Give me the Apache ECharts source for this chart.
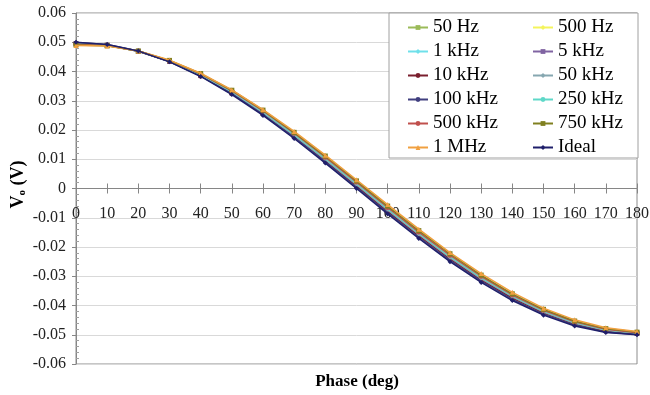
<!DOCTYPE html>
<html>
<head>
<meta charset="utf-8">
<script src="https://cdn.jsdelivr.net/npm/echarts@6/dist/echarts.min.js"></script>
<style>html,body{margin:0;padding:0;background:#fff}#c{width:650px;height:395px}</style>
</head>
<body>
<div id="c"></div>
<script>
var phases = ['0','10','20','30','40','50','60','70','80','90','100','110','120','130','140','150','160','170','180'];
var yTicks = [-0.06,-0.05,-0.04,-0.03,-0.02,-0.01,0,0.01,0.02,0.03,0.04,0.05,0.06];

var seriesNames = ['50 Hz','500 Hz','1 kHz','5 kHz','10 kHz','50 kHz','100 kHz','250 kHz','500 kHz','750 kHz','1 MHz','Ideal'];

var v50Hz   = [0.0495,0.0490,0.0469,0.0435,0.0387,0.0328,0.0258,0.0181,0.0099,0.0013,-0.0073,-0.0157,-0.0236,-0.0308,-0.0370,-0.0422,-0.0461,-0.0485,-0.0495];
var v500Hz  = [0.0494,0.0489,0.0470,0.0436,0.0389,0.0331,0.0262,0.0185,0.0103,0.0017,-0.0069,-0.0153,-0.0232,-0.0304,-0.0367,-0.0419,-0.0458,-0.0483,-0.0494];
var v1kHz   = [0.0496,0.0490,0.0469,0.0434,0.0385,0.0325,0.0255,0.0178,0.0095,0.0009,-0.0078,-0.0161,-0.0240,-0.0312,-0.0374,-0.0425,-0.0463,-0.0487,-0.0496];
var v5kHz   = [0.0495,0.0490,0.0469,0.0435,0.0386,0.0327,0.0257,0.0180,0.0098,0.0012,-0.0074,-0.0158,-0.0237,-0.0309,-0.0371,-0.0423,-0.0461,-0.0485,-0.0495];
var v10kHz  = [0.0497,0.0491,0.0469,0.0434,0.0385,0.0325,0.0254,0.0177,0.0094,0.0008,-0.0079,-0.0162,-0.0241,-0.0313,-0.0375,-0.0426,-0.0464,-0.0488,-0.0497];
var v50kHz  = [0.0495,0.0490,0.0469,0.0435,0.0387,0.0328,0.0258,0.0181,0.0099,0.0013,-0.0073,-0.0157,-0.0236,-0.0308,-0.0370,-0.0422,-0.0461,-0.0485,-0.0495];
var v100kHz = [0.0499,0.0492,0.0470,0.0434,0.0385,0.0324,0.0253,0.0175,0.0091,0.0004,-0.0082,-0.0167,-0.0246,-0.0317,-0.0379,-0.0430,-0.0467,-0.0491,-0.0499];
var v250kHz = [0.0494,0.0489,0.0470,0.0436,0.0389,0.0331,0.0262,0.0185,0.0103,0.0017,-0.0069,-0.0153,-0.0232,-0.0304,-0.0367,-0.0419,-0.0458,-0.0483,-0.0494];
var v500kHz = [0.0493,0.0489,0.0470,0.0437,0.0391,0.0334,0.0265,0.0189,0.0107,0.0022,-0.0065,-0.0149,-0.0228,-0.0300,-0.0364,-0.0416,-0.0456,-0.0481,-0.0493];
var v750kHz = [0.0491,0.0488,0.0470,0.0438,0.0393,0.0336,0.0268,0.0192,0.0111,0.0026,-0.0060,-0.0144,-0.0223,-0.0296,-0.0360,-0.0413,-0.0453,-0.0479,-0.0491];
var v1MHz   = [0.0489,0.0487,0.0470,0.0439,0.0394,0.0337,0.0270,0.0195,0.0114,0.0030,-0.0055,-0.0139,-0.0219,-0.0291,-0.0355,-0.0409,-0.0449,-0.0476,-0.0489];
var vIdeal  = [0.0500,0.0492,0.0470,0.0433,0.0383,0.0321,0.0250,0.0171,0.0087,0.0000,-0.0087,-0.0171,-0.0250,-0.0321,-0.0383,-0.0433,-0.0470,-0.0492,-0.0500];

var seriesValues = [v50Hz,v500Hz,v1kHz,v5kHz,v10kHz,v50kHz,v100kHz,v250kHz,v500kHz,v750kHz,v1MHz,vIdeal];
var seriesColors = ['#9BBB59','#F4F45C','#6FE0EA','#8064A2','#7A1F2E','#86A7B0','#403F7F','#5FD8C8','#C0504D','#808020','#F0A040','#1F1F6A'];
var seriesSymbols = ['rect','diamond','diamond','rect','circle','diamond','none','none','circle','rect','triangle','diamond'];

var FONT = 'Liberation Serif';
var GRID_TOP = 13, GRID_BOTTOM = 31, H = 395;
var zeroOffset = -((H - GRID_TOP - GRID_BOTTOM) / 2);

var series = seriesNames.map(function (n, i) {
  return {
    name: n,
    type: 'line',
    data: seriesValues[i],
    symbol: seriesSymbols[i],
    symbolSize: 5,
    showSymbol: seriesSymbols[i] !== 'none',
    lineStyle: { width: 1.5, color: seriesColors[i] },
    itemStyle: { color: seriesColors[i] },
    color: seriesColors[i],
    animation: false,
    z: 2 + i
  };
});

var leftCol = ['50 Hz','1 kHz','10 kHz','100 kHz','500 kHz','1 MHz'];
var rightCol = ['500 Hz','5 kHz','50 kHz','250 kHz','750 kHz','Ideal'];

function legendAt(left, data) {
  return {
    orient: 'vertical', left: left, top: 18, padding: 0,
    data: data, itemWidth: 20, itemHeight: 6, itemGap: 5,
    textStyle: { fontFamily: FONT, fontSize: 19, lineHeight: 19, color: '#000' },
    z: 10, selectedMode: false
  };
}

var chart = echarts.init(document.getElementById('c'), null, { renderer: 'canvas' });
chart.setOption({
  animation: false,
  backgroundColor: '#fff',
  grid: { left: 76, right: 13, top: GRID_TOP, bottom: GRID_BOTTOM, containLabel: false, outerBoundsMode: 'none', show: true, borderColor: '#8C8C8C', borderWidth: 1, backgroundColor: 'transparent' },
  legend: [legendAt(407, leftCol), legendAt(532, rightCol)],
  graphic: [
    { type: 'rect', shape: { x: 389, y: 13, width: 249, height: 145 }, style: { fill: '#fff', stroke: '#A0A0A0', lineWidth: 1 }, z: 5 },
    { type: 'text', x: 357, y: 382, style: { text: 'Phase (deg)', fontFamily: FONT, fontSize: 17, fontWeight: 'bold', fill: '#000', align: 'center', verticalAlign: 'middle' }, z: 5 }
  ],
  xAxis: [
    {
      type: 'category', data: phases, boundaryGap: false, position: 'bottom', offset: zeroOffset,
      axisLine: { onZero: false, lineStyle: { color: '#868686' } },
      axisTick: { show: true, length: 5, interval: 0, lineStyle: { color: '#868686' } },
      axisLabel: { interval: 0, margin: 17, fontFamily: FONT, fontSize: 16, color: '#222' },
      splitLine: { show: false }
    },
    {
      type: 'category', data: phases, boundaryGap: false, position: 'top', offset: zeroOffset,
      axisLine: { onZero: false, show: false },
      axisTick: { show: true, length: 5, interval: 0, lineStyle: { color: '#868686' } },
      axisLabel: { show: false },
      splitLine: { show: false }
    }
  ],
  yAxis: [
    {
      type: 'value', min: yTicks[0], max: yTicks[yTicks.length - 1], interval: 0.01,
      axisLine: { show: true, onZero: false, lineStyle: { color: '#868686' } },
      axisTick: { show: true, length: 4, lineStyle: { color: '#868686' } },
      axisLabel: { margin: 10, fontFamily: FONT, fontSize: 16, color: '#222',
        formatter: function (v) { return String(Number(v.toFixed(2))); } },
      splitLine: { show: true, lineStyle: { color: '#D9D9D9', width: 1 } },
      name: '{v|V}{s|o}{v| (V)}',
      nameLocation: 'middle', nameRotate: 90, nameGap: 48, nameMoveOverlap: false,
      nameTextStyle: {
        padding: [0, 0, 0, 8],
        rich: {
          v: { fontFamily: FONT, fontSize: 18, fontWeight: 'bold', color: '#000' },
          s: { fontFamily: FONT, fontSize: 11, fontWeight: 'bold', color: '#000', padding: [8, 0, 0, 0] }
        }
      }
    },
    {
      type: 'value', min: yTicks[0], max: yTicks[yTicks.length - 1], interval: 0.01, position: 'left',
      axisLine: { show: false, onZero: false },
      axisTick: { show: false, inside: true },
      minorTick: { show: true, splitNumber: 5, length: 3, lineStyle: { color: '#A0A0A0' } },
      axisLabel: { show: false },
      splitLine: { show: false }
    }
  ],
  series: series
});
</script>
</body>
</html>
